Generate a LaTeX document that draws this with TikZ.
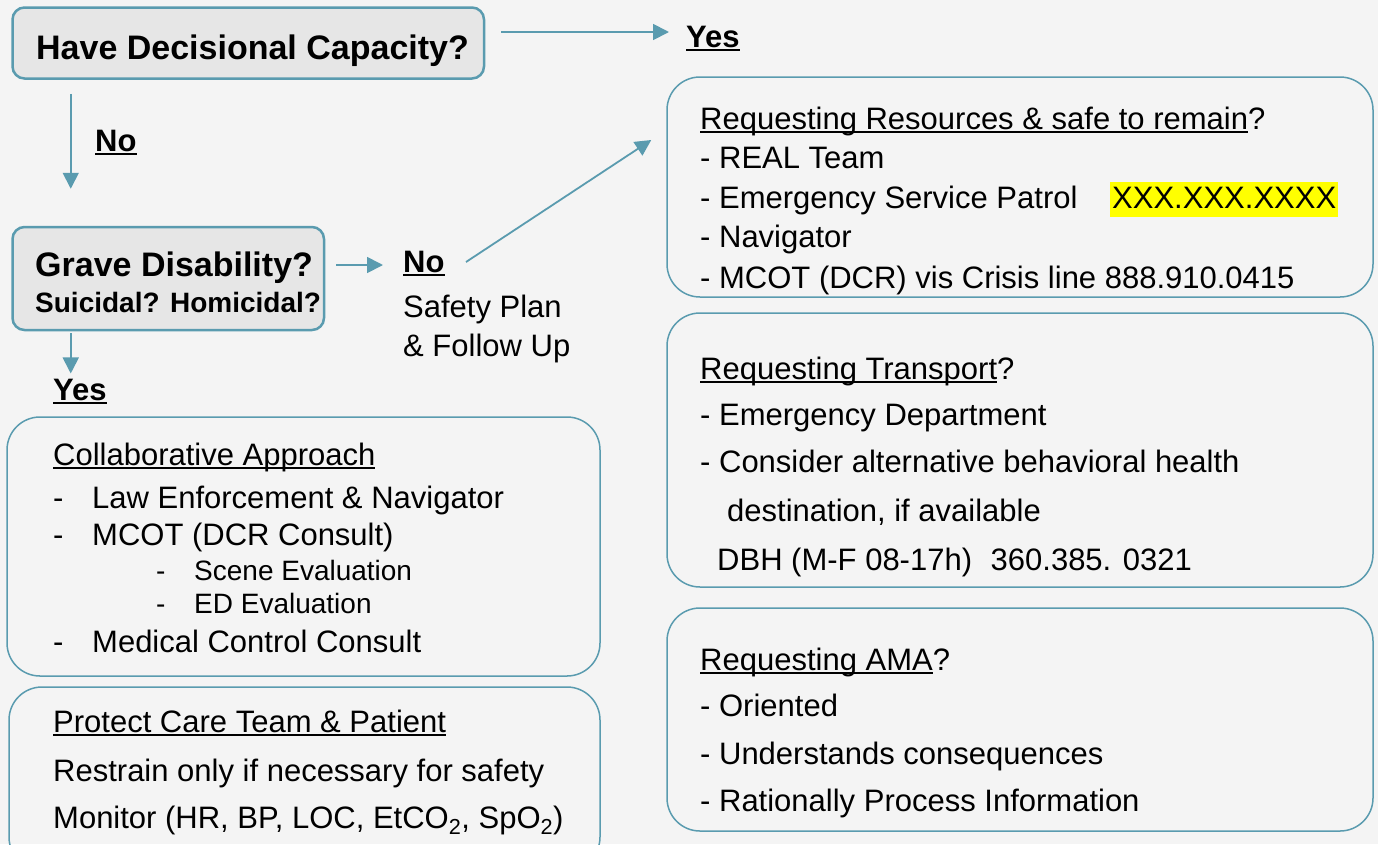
\documentclass[tikz,border=0pt]{standalone}
\usepackage{fontspec}
\setmainfont{Liberation Sans}
\usetikzlibrary{arrows.meta,calc}
\definecolor{tealline}{HTML}{5A9BAF}
\definecolor{bgcol}{HTML}{F4F4F4}
\definecolor{qfill}{HTML}{E6E6E6}
\definecolor{hlyellow}{HTML}{FFFF00}
\newsavebox\ulbox
\newcommand\ulx[1]{\sbox\ulbox{#1}\rlap{\rule[-0.12em]{\wd\ulbox}{0.065em}}\usebox\ulbox}
\newcommand\dashcol[2]{\makebox[#1][l]{-}#2}
\begin{document}
\begin{tikzpicture}[x=1pt,y=-1pt,
  qbox/.style={draw=tealline, line width=2.5pt, fill=qfill, rounded corners=12pt, inner sep=0pt},
  panel/.style={draw=tealline, line width=1.5pt, rounded corners=33pt, inner sep=0pt},
  txt/.style={anchor=base west, inner sep=0pt, font=\fontsize{31}{37}\selectfont},
  sml/.style={anchor=base west, inner sep=0pt, font=\fontsize{28}{34}\selectfont},
  bldL/.style={anchor=base west, inner sep=0pt, font=\fontsize{34}{41}\selectfont\bfseries},
  bldM/.style={anchor=base west, inner sep=0pt, font=\fontsize{31}{37}\selectfont\bfseries},
  bldS/.style={anchor=base west, inner sep=0pt, font=\fontsize{28}{34}\selectfont\bfseries},
  arr/.style={draw=tealline, line width=1.8pt, -{Triangle[length=16pt,width=16pt]}},
]
\fill[bgcol] (0,0) rectangle (1378,844);
\useasboundingbox (0,0) rectangle (1378,844);

% question boxes
\node[qbox, minimum width=471.5pt, minimum height=71pt] (q1) at (248.25,43) {};
\node[bldL] (q1t) at (36,59) {Have Decisional Capacity?};
\node[qbox, minimum width=311.5pt, minimum height=103pt] (q2) at (168.25,278.5) {};
\node[bldL] (q2a) at (35,276) {Grave Disability?};
\node[bldS] (q2b) at (35,312) {Suicidal? Homicidal?};

% labels
\node[bldM] (yes1) at (686,47) {\ulx{Yes}};
\node[bldM] (no1) at (95,151) {\ulx{No}};
\node[bldM] (no2) at (403,272) {\ulx{No}};
\node[txt] (sp1) at (403,317) {Safety Plan};
\node[txt] (sp2) at (403,356) {\& Follow Up};
\node[bldM] (yes2) at (53,400) {\ulx{Yes}};

% left panels
\node[panel, minimum width=593pt, minimum height=259pt] (c1) at (303.5,546.5) {};
\node[txt] (c1t) at (53,465) {\ulx{Collaborative Approach}};
\node[txt] (c1a) at (53,508) {\dashcol{39pt}{Law Enforcement \& Navigator}};
\node[txt] (c1b) at (53,545) {\dashcol{39pt}{MCOT (DCR Consult)}};
\node[sml] (c1c) at (156,580) {\dashcol{38pt}{Scene Evaluation}};
\node[sml] (c1d) at (156,613) {\dashcol{38pt}{ED Evaluation}};
\node[txt] (c1e) at (53,652) {\dashcol{39pt}{Medical Control Consult}};

\node[panel, minimum width=591pt, minimum height=183pt] (c2) at (304.5,778.5) {};
\node[txt] (c2t) at (53,732) {\ulx{Protect Care Team \& Patient}};
\node[txt] (c2a) at (53,781) {Restrain only if necessary for safety};
\node[txt] (c2b) at (53,828) {Monitor (HR, BP, LOC, EtCO\textsubscript{2}, SpO\textsubscript{2})};

% right panels
\node[panel, minimum width=706pt, minimum height=220pt] (ra) at (1020,187) {};
\node[txt] (ra0) at (700,129) {\ulx{Requesting Resources \& safe to remain}?};
\node[txt] (ra1) at (700,168) {- REAL Team};
\node[txt] (ra2) at (700,208) {- Emergency Service Patrol};
\node[txt, fill=hlyellow, inner xsep=2pt, inner ysep=0pt, text height=26pt, text depth=9pt] (ra2h) at (1110,208) {XXX.XXX.XXXX};
\node[txt] (ra3) at (700,247) {- Navigator};
\node[txt] (ra4) at (700,288) {- MCOT (DCR) vis Crisis line 888.910.0415};

\node[panel, minimum width=706pt, minimum height=274pt] (rb) at (1020,450) {};
\node[txt] (rb0) at (700,379) {\ulx{Requesting Transport}?};
\node[txt] (rb1) at (700,425) {- Emergency Department};
\node[txt] (rb2) at (700,472) {- Consider alternative behavioral health};
\node[txt] (rb3) at (727,521) {destination, if available};
\node[txt] (rb4) at (717,570) {DBH (M-F 08-17h)\hspace{0.6em}360.385. 0321};

\node[panel, minimum width=706pt, minimum height=223pt] (rc) at (1020,719.5) {};
\node[txt] (rc0) at (700,670) {\ulx{Requesting AMA}?};
\node[txt] (rc1) at (700,716) {- Oriented};
\node[txt] (rc2) at (700,764) {- Understands consequences};
\node[txt] (rc3) at (700,811) {- Rationally Process Information};

% connector end points
\coordinate (d1s) at ($(q1.south west)+(59.5,14)$);
\coordinate (d1e) at ($(d1s |- q2.north)+(0,-37)$);
\coordinate (d2s) at ($(q2.south west)+(59.5,2)$);
\coordinate (d2e) at ($(d2s |- yes2.north)+(0,-5)$);

% connectors
\draw[arr] ($(q1.east)+(16,-11)$) -- ($(yes1.base west)+(-17,-15)$);
\draw[arr] (d1s) -- (d1e);
\draw[arr] ($(q2.east)+(11,-13.5)$) -- ($(no2.base west)+(-20,-7)$);
\draw[arr] ($(no2.base west)+(63,-10)$) -- ($(ra.west)+(-15,-47)$);
\draw[arr] (d2s) -- (d2e);
\end{tikzpicture}
\end{document}
